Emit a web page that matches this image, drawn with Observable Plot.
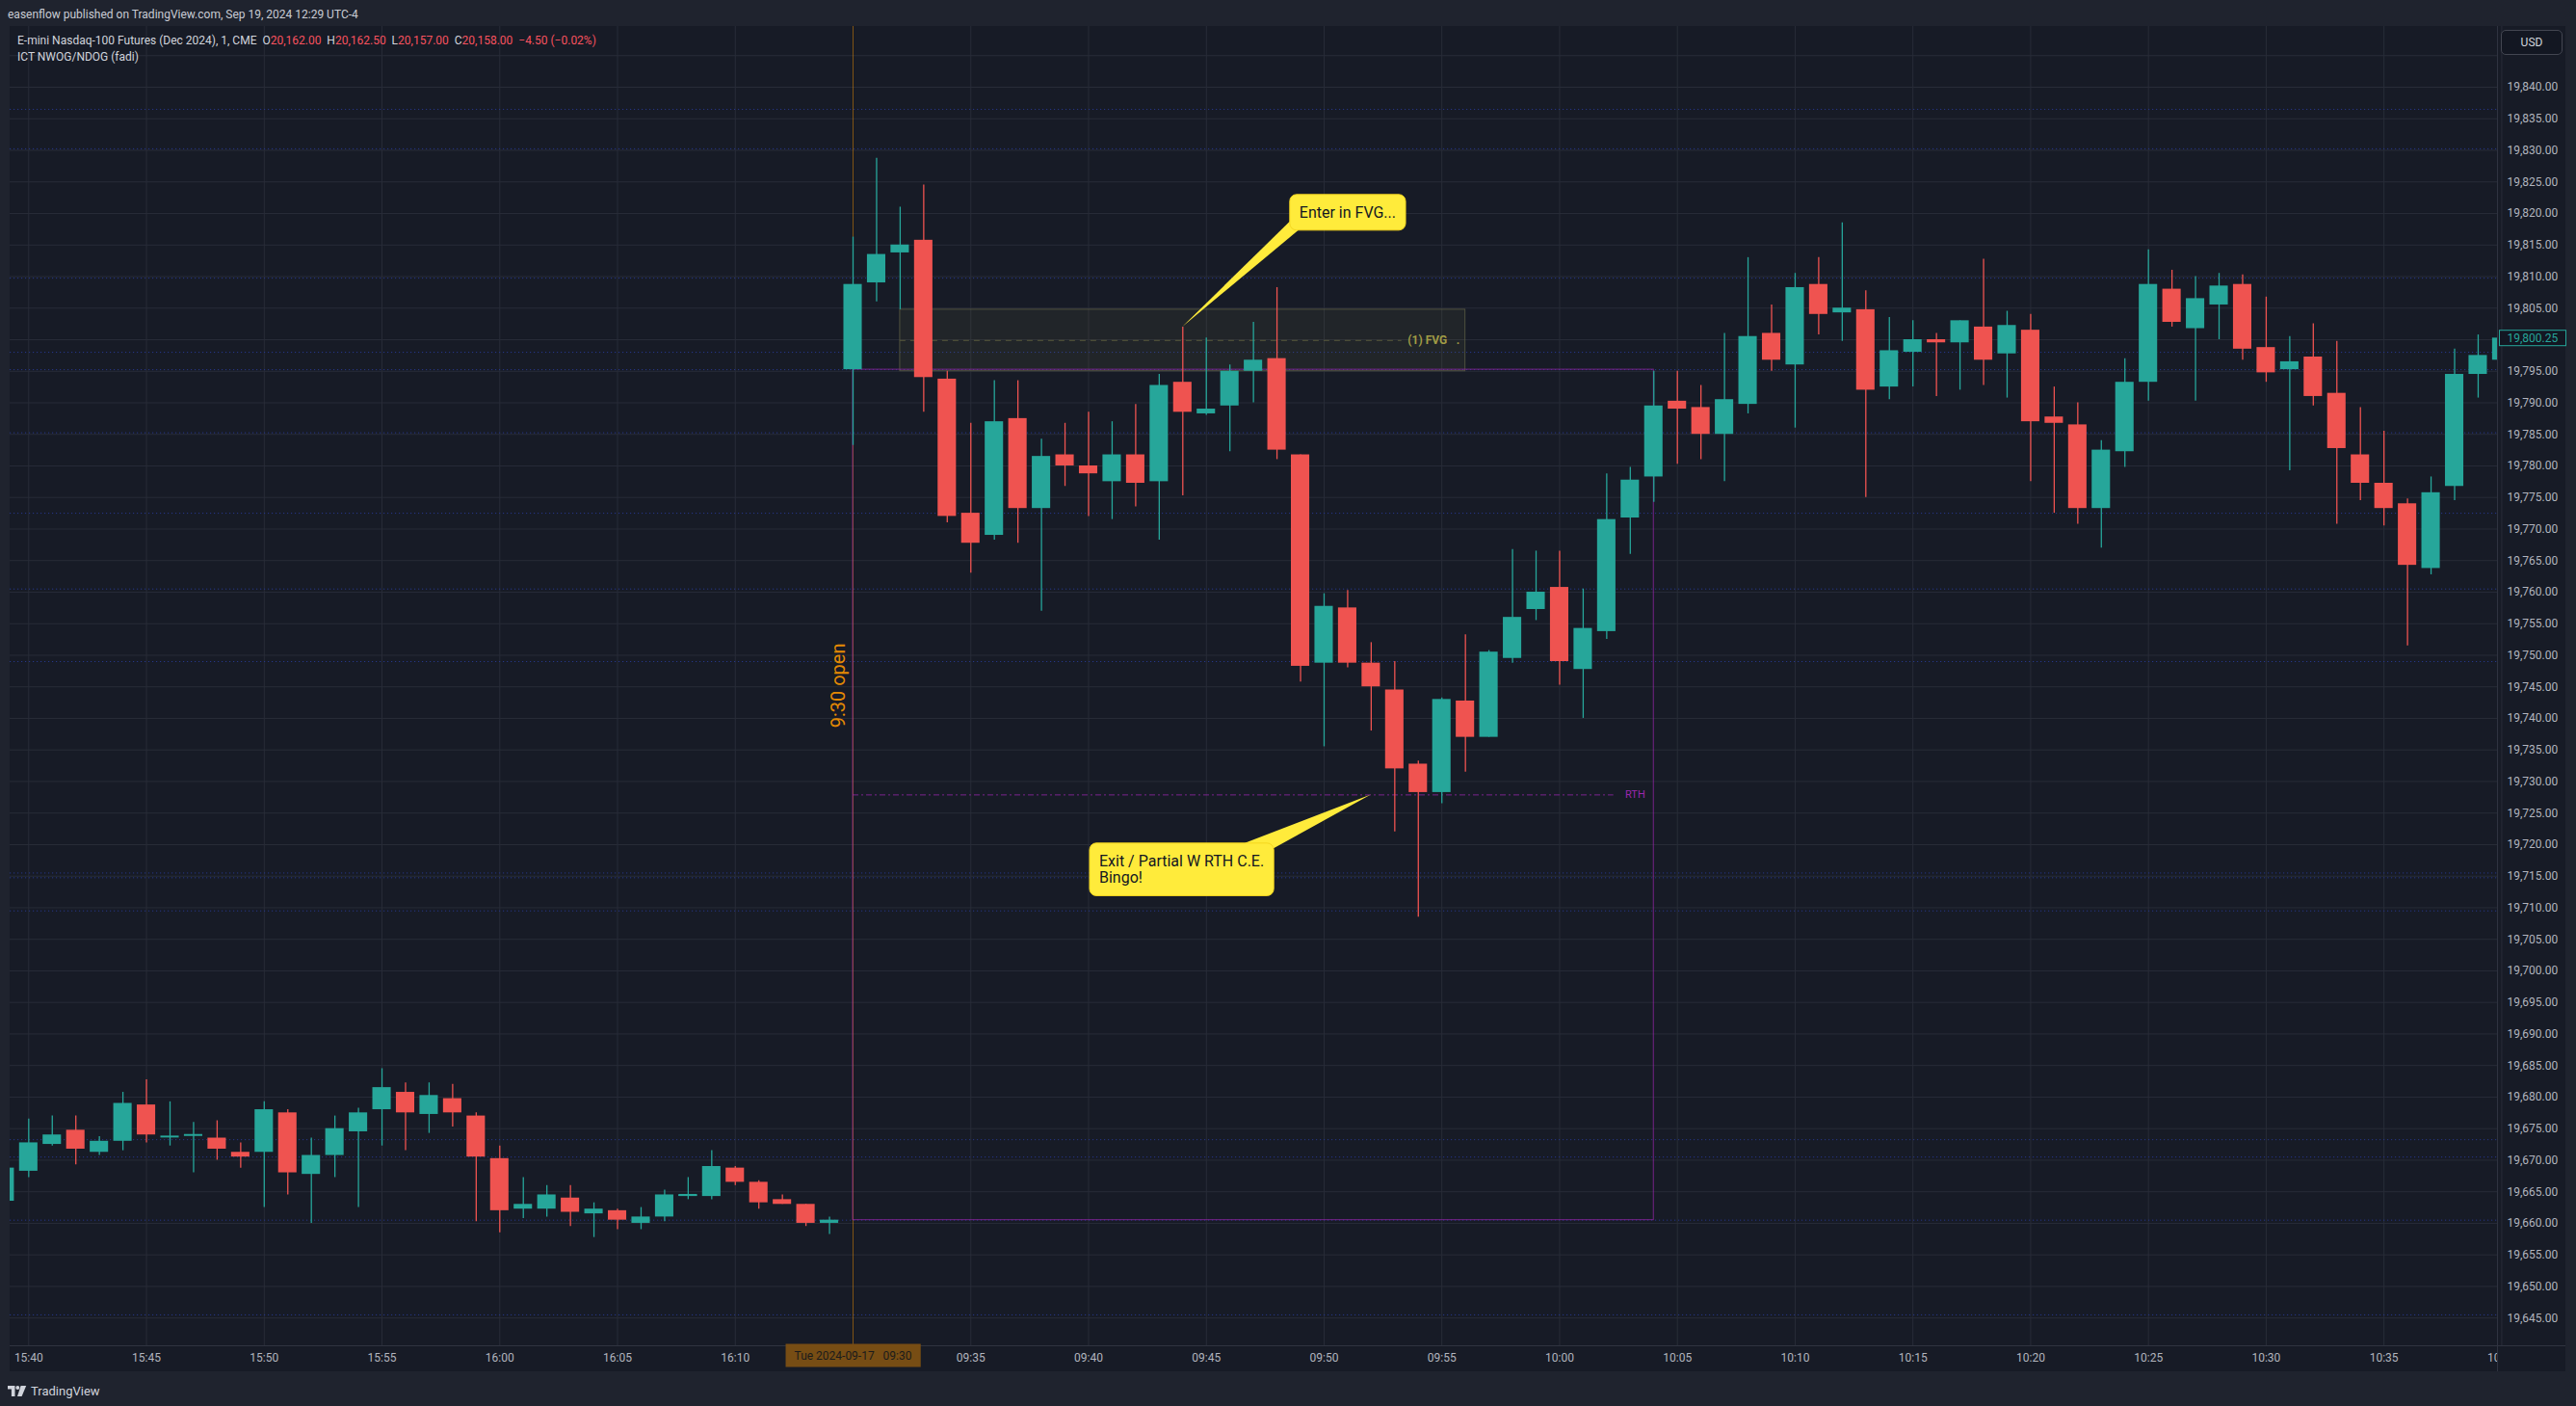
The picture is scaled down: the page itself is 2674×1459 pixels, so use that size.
<!DOCTYPE html>
<html>
<head>
<meta charset="utf-8">
<script src="https://cdn.jsdelivr.net/npm/d3@7"></script>
<script src="https://cdn.jsdelivr.net/npm/@observablehq/plot@0.6"></script>
<style>
  html, body { margin:0; padding:0; width:2674px; height:1459px; overflow:hidden; background:#1f232e; font-family: Roboto, "Noto Sans", sans-serif; }
  #hdr { position:absolute; left:8px; top:7px; font-size:12px; line-height:16px; color:#c9ccd4; white-space:pre; }
  #chart { position:absolute; left:10px; top:27px; }
  #legend { position:absolute; left:18px; top:34px; font-size:12px; line-height:17px; color:#d1d4dc; white-space:pre; }
  #legend .v { color:#f7525f; }
  #usd { position:absolute; left:2596px; top:31px; width:62px; height:24px; border:1px solid #434651; border-radius:5px; background:#131722; color:#d1d4dc; font-size:12px; line-height:24px; text-align:center; box-sizing:content-box; }
  #corner { position:absolute; left:2592px; top:1396px; width:71px; height:27px; background:#171b26; border-left:1px solid #2f3340; border-top:1px solid #2f3340; box-sizing:border-box; }
  #foot { position:absolute; left:8px; top:1435px; height:16px; display:flex; align-items:center; color:#d1d4dc; font-size:13px; }
  #foot svg { margin-right:4px; }
</style>
</head>
<body>
<div id="hdr">easenflow published on TradingView.com, Sep 19, 2024 12:29 UTC-4</div>
<div id="chart"></div>
<div id="legend">E-mini Nasdaq-100 Futures (Dec 2024), 1, CME  O<span class="v">20,162.00</span>  H<span class="v">20,162.50</span>  L<span class="v">20,157.00</span>  C<span class="v">20,158.00</span>  <span class="v">−4.50 (−0.02%)</span>
ICT NWOG/NDOG (fadi)</div>
<div id="usd">USD</div>
<div id="corner"></div>
<div id="foot"><svg width="20" height="11" viewBox="0 0 20 11"><path d="M0 0h7.5v11h-3.6v-7.4H0z" fill="#d1d4dc"/><circle cx="10.3" cy="2" r="2" fill="#d1d4dc"/><path d="M13.6 0h5.6l-4.6 11h-4.6z" fill="#d1d4dc"/></svg>TradingView</div>
<script>
// ---------- data (1-minute bars) ----------
const times = [
  "15:39","15:40","15:41","15:42","15:43","15:44","15:45","15:46","15:47","15:48","15:49",
  "15:50","15:51","15:52","15:53","15:54","15:55","15:56","15:57","15:58","15:59",
  "16:00","16:01","16:02","16:03","16:04","16:05","16:06","16:07","16:08","16:09",
  "16:10","16:11","16:12","16:13","16:14",
  "09:30","09:31","09:32","09:33","09:34","09:35","09:36","09:37","09:38","09:39",
  "09:40","09:41","09:42","09:43","09:44","09:45","09:46","09:47","09:48","09:49",
  "09:50","09:51","09:52","09:53","09:54","09:55","09:56","09:57","09:58","09:59",
  "10:00","10:01","10:02","10:03","10:04","10:05","10:06","10:07","10:08","10:09",
  "10:10","10:11","10:12","10:13","10:14","10:15","10:16","10:17","10:18","10:19",
  "10:20","10:21","10:22","10:23","10:24","10:25","10:26","10:27","10:28","10:29",
  "10:30","10:31","10:32","10:33","10:34","10:35","10:36","10:37","10:38","10:39","10:40"
];
const opens = [
  19663.5,19668.25,19672.5,19674.75,19671.25,19673,19678.75,19673.75,19674,19673.5,19671.25,
  19671.25,19677.5,19667.75,19670.75,19674.5,19678,19680.75,19677.25,19679.75,19677,
  19670.25,19662.25,19662.25,19664,19661.5,19662,19660,19661,19664.25,19664.25,
  19668.75,19666.5,19663.75,19663,19660,
  19795.25,19809,19813.75,19815.75,19793.75,19772.5,19769,19787.5,19773.25,19781.75,
  19780,19777.5,19781.75,19777.5,19793.25,19788.25,19789.5,19795,19797,19781.75,
  19748.75,19757.5,19748.75,19744.5,19732.75,19728.25,19742.75,19737,19749.5,19757.25,
  19760.75,19747.75,19753.75,19771.75,19778.25,19790.25,19789.25,19785,19789.75,19801,
  19796,19808.75,19804.25,19804.75,19792.5,19798,19800,19799.5,19802,19797.75,
  19801.5,19787.75,19786.5,19773.25,19782.25,19793.25,19808,19801.75,19805.5,19808.75,
  19798.75,19795.25,19797.25,19791.5,19781.75,19777.25,19774,19763.75,19776.75,19794.5,19796.75
];
const highs = [
  19669.5,19676.5,19677,19677,19673.75,19680.75,19682.75,19679.25,19676,19676.25,19672.75,
  19679.25,19678,19673.5,19677,19678.25,19684.5,19682.25,19682.25,19682,19677.5,
  19672.25,19667.25,19666,19666,19663.25,19662.25,19662.5,19665.25,19667.25,19671.5,
  19669,19666.75,19664.5,19663,19661,
  19816.25,19828.75,19821,19824.5,19795,19786.75,19793.5,19793.5,19784.25,19786.75,
  19788.5,19787,19789.75,19794.5,19802,19800.25,19796,19802.75,19808.25,19781.75,
  19759.75,19760.25,19752,19749,19733.25,19743.25,19753.25,19750.75,19766.75,19766.5,
  19766.5,19760.5,19778.75,19779.75,19795,19795,19792.75,19801,19813,19805.5,
  19810.5,19813,19818.5,19807.75,19803.5,19803,19801,19803,19812.75,19804.5,
  19804,19792.5,19790,19784,19797,19814.25,19811,19810,19810.5,19810.25,
  19806.75,19800.5,19802.5,19799.75,19789.25,19785.5,19774.75,19778.25,19798.5,19800.75,19800.5
];
const lows = [
  19662.75,19667.25,19672.25,19669.25,19670.75,19671.5,19672.75,19672.25,19668,19670,19668.75,
  19662.5,19664.5,19660,19667.25,19662.5,19672.25,19671.5,19674.25,19675.25,19660.25,
  19658.5,19660.75,19661,19659.5,19657.75,19659,19659,19660.25,19663.75,19663.75,
  19666,19662.25,19663,19659.5,19658.25,
  19783.25,19806,19804.75,19788.5,19771,19763,19768.25,19767.75,19757,19776.75,
  19772,19771.5,19773.5,19768.25,19775.25,19788,19782.25,19790,19781,19745.75,
  19735.5,19748,19738,19722,19708.5,19726.5,19731.5,19737,19748.75,19755.5,
  19745.25,19740,19752.5,19766,19774.25,19780.25,19781,19777.5,19788.25,19795,
  19786,19800.75,19799.75,19775,19790.5,19792.5,19791,19792,19792.75,19790.75,
  19777.5,19772.5,19770.75,19767,19779.75,19790.25,19802,19790.25,19800,19796.75,
  19793.25,19779.25,19789.5,19770.75,19774.5,19770.5,19751.5,19762.75,19774.5,19790.75,19796.5
];
const closes = [
  19668.75,19672.75,19674,19671.75,19673,19679,19674,19673.75,19674,19671.75,19670.5,
  19678,19668,19670.75,19675,19677.5,19681.5,19677.5,19680.25,19677.5,19670.5,
  19662,19663,19664.5,19661.75,19662.25,19660.5,19661,19664.5,19664.5,19669,
  19666.5,19663.25,19663,19660,19660.5,
  19808.75,19813.5,19815,19794,19772,19767.75,19787,19773.25,19781.5,19780,
  19778.75,19781.75,19777.25,19792.75,19788.5,19789,19795,19796.75,19782.5,19748.25,
  19757.75,19748.75,19745,19732,19728.25,19743,19737,19750.5,19756,19760,
  19749,19754.25,19771.5,19777.75,19789.5,19789,19785,19790.5,19800.5,19796.75,
  19808.25,19804,19805,19792,19798.25,19800,19799.5,19803,19796.75,19802.25,
  19787,19786.75,19773.25,19782.5,19793.25,19808.75,19802.75,19806.5,19808.5,19798.5,
  19794.75,19796.5,19791,19782.75,19777.25,19773.25,19764.25,19775.75,19794.5,19797.5,19800.25
];
const firstBarIndex = -36;   // 09:30 is bar 0

// indicator / drawing levels
const dottedLevels = [19836.5,19830.25,19809.75,19798,19795.25,19785.25,19772.5,19760.5,19749,
  19715.5,19714.75,19709.5,19673.25,19670.5,19660.5,19645.5];
const rthGap = [{start:0, end:34, low:19660.5, high:19795.25, label:"RTH"}];
const fvgZone = [{start:2, end:26, low:19795, high:19804.75, label:"(1) FVG"}];
const openMarker = [{bar:0, price:19745.2, label:"9:30 open"}];
const callouts = [
  {text:"Enter in FVG...", tx:18.95, ty:19820.2, tipBar:14, tipPrice:19802},
  {text:"Exit / Partial W RTH C.E.\nBingo!", tx:10.45, ty:19716.1, tipBar:22, tipPrice:19727.875}
];
const lastPrice = [{price:19800.25, label:"19,800.25"}];
const crosshair = [{bar:0, label:"Tue 2024-09-17   09:30"}];
const priceGrid = d3.range(19645, 19850, 5);
const priceLabels = d3.range(19645, 19845, 5);

// ---------- build ----------
const bars = times.map((t, k) => ({i: k + firstBarIndex, t, open: opens[k], high: highs[k], low: lows[k], close: closes[k]}));
const up = "#26a69a", down = "#ef5350";
const col = d => d.close >= d.open ? up : down;
const timeTicks = bars.filter(d => (+d.t.slice(3)) % 5 === 0 && d.t !== "09:30").map(d => d.i);
const labelOf = new Map(bars.map(d => [d.i, d.t]));
const half = 0.39;
const gridC = "#282c38";

const W = 2653, H = 1396;
const svg = Plot.plot({
  width: W, height: H,
  marginLeft: 0, marginRight: 71, marginTop: 0, marginBottom: 27,
  style: {background: "#171b26", fontFamily: "Roboto, 'Noto Sans', sans-serif", overflow: "visible"},
  x: {type: "linear", domain: [-35.79, 69.82], axis: null},
  y: {type: "linear", domain: [19640.6, 19849.62], axis: null},
  marks: [
    Plot.gridY(priceGrid, {stroke: gridC, strokeOpacity: 1}),
    Plot.gridX(timeTicks, {stroke: gridC, strokeOpacity: 1}),
    Plot.ruleY(dottedLevels, {stroke: "#27378a", strokeWidth: 1, strokeDasharray: "1.2 2.8", clip: true}),
    Plot.ruleX(openMarker, {x: "bar", stroke: "#ff9800", strokeOpacity: 0.45}),
    Plot.text(openMarker, {x: "bar", y: "price", text: "label", rotate: -90, dx: -15, fill: "#ff9800", fillOpacity: 0.9, fontSize: 20}),
    // FVG zone
    Plot.rect(fvgZone, {x1: "start", x2: "end", y1: "low", y2: "high", fill: "#8d9150", fillOpacity: 0.09, stroke: "#5d5e45", strokeOpacity: 0.8}),
    Plot.ruleY(fvgZone, {y: d => (d.low + d.high) / 2, x1: "start", x2: d => d.end - 2.7, stroke: "#55573a", strokeDasharray: "6 5"}),
    Plot.text(fvgZone, {x: "end", y: d => (d.low + d.high) / 2, text: "label", textAnchor: "end", dx: -19, fill: "#a09b45", fontWeight: "bold", fontSize: 12}),
    Plot.text(fvgZone, {x: "end", y: d => (d.low + d.high) / 2, text: () => ".", textAnchor: "end", dx: -6, fill: "#a09b45", fontWeight: "bold", fontSize: 12}),
    // RTH gap box
    Plot.rect(rthGap, {x1: "start", x2: "end", y1: "low", y2: "high", fill: "none", stroke: "#9c27b0", strokeOpacity: 0.7}),
    Plot.ruleY(rthGap, {y: d => (d.low + d.high) / 2, x1: "start", x2: d => d.end - 1.7, stroke: "#9c27b0", strokeOpacity: 0.75, strokeDasharray: "6 3 2 3"}),
    Plot.text(rthGap, {x: "end", y: d => (d.low + d.high) / 2, text: "label", textAnchor: "end", dx: -9, fill: "#9c27b0", fontSize: 11}),
    // candles
    Plot.ruleX(bars, {x: "i", y1: "low", y2: "high", stroke: col, strokeWidth: 1.3, clip: true}),
    Plot.rect(bars, {x1: d => d.i - half, x2: d => d.i + half, y1: "open", y2: "close", fill: col, clip: true}),
    Plot.ruleY(bars.filter(d => Math.abs(d.close - d.open) < 0.3), {y: "close", x1: d => d.i - half, x2: d => d.i + half, stroke: col, strokeWidth: 2, clip: true}),
    // callouts
    Plot.text(callouts, {x: "tx", y: "ty", text: "text", textAnchor: "start", lineAnchor: "middle", lineHeight: 1.1, fill: "#131722", fontSize: 16, className: "callout"}),
    // axes
    Plot.axisY({anchor: "right", ticks: priceLabels, tickFormat: d3.format(",.2f"), tickSize: 0, tickPadding: 10, label: null, color: "#b2b5be", fontSize: 12}),
    Plot.axisX({ticks: timeTicks, tickFormat: i => labelOf.get(i), tickSize: 0, tickPadding: 8, label: null, color: "#b2b5be", fontSize: 12}),
    Plot.frame({anchor: "right", stroke: "#2f3340"}),
    Plot.frame({anchor: "bottom", stroke: "#2f3340"}),
    Plot.text(lastPrice, {y: "price", frameAnchor: "right", text: "label", textAnchor: "start", dx: 10, fill: "#26a69a", fontSize: 12, className: "lastprice"}),
    Plot.text(crosshair, {x: "bar", frameAnchor: "bottom", text: "label", dy: 14, fill: "#1b1b1b", fontSize: 12, className: "xhair"})
  ]
});
document.getElementById("chart").appendChild(svg);

// ---------- label backgrounds (drawn after layout so text boxes are known) ----------
const NS = "http://www.w3.org/2000/svg";
function boxOf(el) {
  const b = el.getBBox();
  const m = svg.getScreenCTM().inverse().multiply(el.getScreenCTM());
  return {x: b.x * m.a + m.e, y: b.y * m.d + m.f, w: b.width * m.a, h: b.height * m.d};
}
function topLevel(el) { while (el.parentNode !== svg) el = el.parentNode; return el; }
function addBehind(textSel, fn) {
  svg.querySelectorAll(textSel).forEach((t, k) => {
    const g = document.createElementNS(NS, "g");
    fn(g, boxOf(t), k);
    svg.insertBefore(g, topLevel(t));
  });
}
function mk(tag, attrs) { const e = document.createElementNS(NS, tag); for (const k in attrs) e.setAttribute(k, attrs[k]); return e; }

const xs = svg.scale("x"), ys = svg.scale("y");
addBehind(".callout text", (g, b, k) => {
  const padX = 10, padY = 9;
  const bx = b.x - padX, by = b.y - padY, bw = b.w + 2 * padX, bh = b.h + 2 * padY;
  const c = callouts[k];
  const tip = [xs.apply(c.tipBar), ys.apply(c.tipPrice)];
  let base;
  if (tip[1] > by + bh) base = [[bx, by + bh - 9], [bx + 9, by + bh]];
  else base = [[bx + bw - 30, by], [bx + bw - 1, by + 6]];
  g.appendChild(mk("polygon", {points: [tip, ...base].map(p => p.join(",")).join(" "), fill: "#ffeb3b"}));
  g.appendChild(mk("rect", {x: bx, y: by, width: bw, height: bh, rx: 7, fill: "#ffeb3b", stroke: "#f5d61f", "stroke-width": 1}));
});
addBehind(".lastprice text", (g, b) => {
  g.appendChild(mk("rect", {x: b.x - 8, y: b.y - 1, width: b.w + 16, height: b.h + 2, fill: "#131722", stroke: "#26a69a", "stroke-width": 1}));
});
addBehind(".xhair text", (g, b) => {
  g.appendChild(mk("rect", {x: b.x - 9, y: b.y - 5, width: b.w + 18, height: b.h + 10, fill: "#774d14"}));
});
</script>
</body>
</html>
